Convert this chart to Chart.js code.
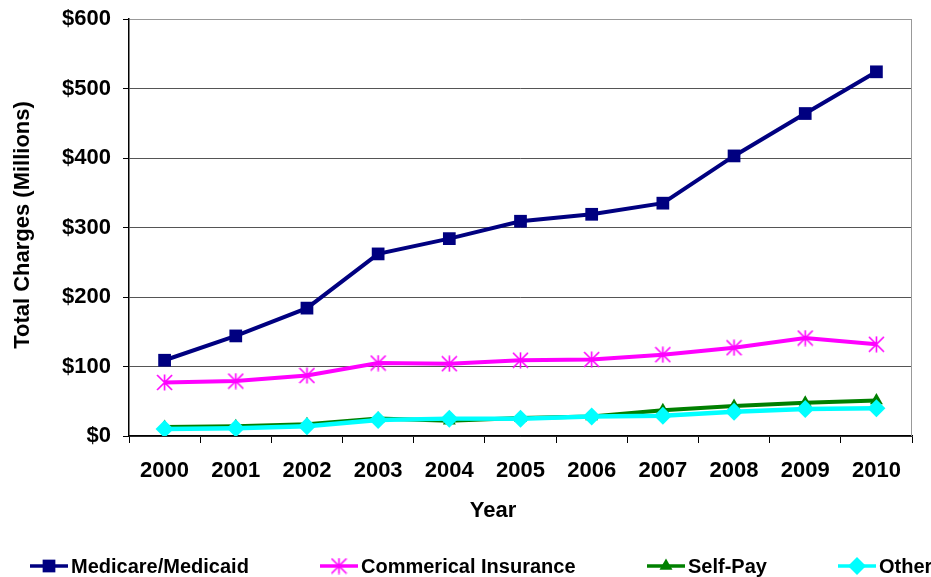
<!DOCTYPE html>
<html>
<head>
<meta charset="utf-8">
<script src="https://cdn.jsdelivr.net/npm/chart.js@4/dist/chart.umd.min.js"></script>
<style>
  html, body { margin: 0; padding: 0; background: #fff; }
  #wrap { width: 931px; height: 577px; position: relative; }
</style>
</head>
<body>
<div id="wrap"><canvas id="chargesChart" width="931" height="577"></canvas></div>
<script>
/* data */
const years = ["2000","2001","2002","2003","2004","2005","2006","2007","2008","2009","2010"];
const medicare = [109, 144, 184, 262, 284, 309, 319, 335, 403, 464, 524];
const commercial = [77, 79, 87, 105, 104, 109, 110, 117, 127, 141, 132];
const selfPay = [13, 14, 17, 25, 22, 26, 28, 37, 43, 48, 51];
const other = [10, 11, 14, 23, 25, 25, 28, 29, 35, 39, 40];
const yTicks = [0, 100, 200, 300, 400, 500, 600];

const FONT = "'Liberation Sans', Arial, sans-serif";

/* asterisk marker like the excel star */
function makeStar(size, color){
    const c = document.createElement("canvas");
    c.width = size; c.height = size;
    const g = c.getContext("2d");
    g.strokeStyle = color;
    g.lineWidth = 1.6;
    const m = size / 2, r = size / 2 - 1;
    g.beginPath();
    g.moveTo(m - r, m - r); g.lineTo(m + r, m + r);
    g.moveTo(m + r, m - r); g.lineTo(m - r, m + r);
    g.moveTo(m, 0.5); g.lineTo(m, size - 0.5);
    g.stroke();
    return c;
}
const starImg = makeStar(17, "#FF00FF");

const series = [
    { label: "Medicare/Medicaid", data: medicare, color: "#000080", style: "rect", radius: 9, order: 3 },
    { label: "Commerical Insurance", data: commercial, color: "#FF00FF", style: starImg, radius: 8, order: 2 },
    { label: "Self-Pay", data: selfPay, color: "#008000", style: "triangle", radius: 7.5, order: 1 },
    { label: "Other", data: other, color: "#00FFFF", style: "rectRot", radius: 9, order: 0 }
];

function drawMarker(g, s, x, y){
    g.save();
    g.fillStyle = s.color;
    g.beginPath();
    if(s.style === "rect"){
        const h = s.radius * Math.SQRT1_2;
        g.rect(x - h, y - h, 2 * h, 2 * h);
        g.fill();
    } else if(s.style === "triangle"){
        const r = s.radius;
        g.moveTo(x, y - r);
        g.lineTo(x + r * 0.866, y + r * 0.5);
        g.lineTo(x - r * 0.866, y + r * 0.5);
        g.closePath();
        g.fill();
    } else if(s.style === "rectRot"){
        const r = s.radius;
        g.moveTo(x, y - r); g.lineTo(x + r, y); g.lineTo(x, y + r); g.lineTo(x - r, y);
        g.closePath();
        g.fill();
    } else {
        g.drawImage(s.style, x - s.style.width / 2, y - s.style.height / 2);
    }
    g.restore();
}

/* legend, axis titles and plot border drawn by hand */
const legendSpots = [30, 320, 647, 838];

const extrasPlugin = {
    id: "extras",
    afterDraw(chart){
        const g = chart.ctx;
        const area = chart.chartArea;

        g.save();
        g.strokeStyle = "#999";
        g.lineWidth = 1;
        g.beginPath();
        g.moveTo(area.right - 0.5, area.top);
        g.lineTo(area.right - 0.5, area.bottom);
        g.stroke();

        g.fillStyle = "#000";
        g.font = "bold 22px " + FONT;
        g.textAlign = "center";
        g.textBaseline = "middle";
        g.fillText("Year", 493, 511);

        g.translate(23, 225);
        g.rotate(-Math.PI / 2);
        g.fillText("Total Charges (Millions)", 0, 0);
        g.restore();

        const ly = 566;
        series.forEach((s, i) => {
            const x = legendSpots[i];
            g.save();
            g.strokeStyle = s.color;
            g.lineWidth = 3.5;
            g.beginPath();
            g.moveTo(x, ly);
            g.lineTo(x + 38, ly);
            g.stroke();
            drawMarker(g, s, x + 19, ly);
            g.fillStyle = "#000";
            g.font = "bold 20px " + FONT;
            g.textAlign = "left";
            g.textBaseline = "middle";
            g.fillText(s.label, x + 41, ly + 1);
            g.restore();
        });
    }
};

const ctx = document.getElementById("chargesChart");

new Chart(ctx, {
    type: "line",
    data: {
        labels: years,
        datasets: series.map(s => ({
            label: s.label,
            data: s.data,
            borderColor: s.color,
            backgroundColor: s.color,
            borderWidth: s.color === "#00FFFF" ? 4.5 : 4,
            pointStyle: s.style,
            pointRadius: s.radius,
            pointBorderWidth: 0,
            pointBackgroundColor: s.color,
            pointBorderColor: s.color,
            tension: 0,
            fill: false,
            order: s.order
        }))
    },
    options: {
        responsive: false,
        animation: false,
        devicePixelRatio: 1,
        layout: { autoPadding: false, padding: { top: 19, right: 19, left: 0, bottom: 0 } },
        plugins: {
            legend: { display: false },
            tooltip: { enabled: false }
        },
        scales: {
            x: {
                offset: true,
                grid: {
                    offset: true,
                    drawOnChartArea: false,
                    drawTicks: true,
                    tickLength: 7,
                    color: "#000"
                },
                border: { color: "#000", width: 1.5 },
                ticks: {
                    color: "#000",
                    font: { family: FONT, size: 22, weight: "bold" },
                    padding: 15,
                    maxRotation: 0,
                    autoSkip: false
                },
                afterFit(scale){
                    scale.height = 577 - 436;
                    scale.paddingLeft = 0;
                    scale.paddingRight = 0;
                }
            },
            y: {
                min: 0,
                max: 600,
                afterBuildTicks(scale){ scale.ticks = yTicks.map(v => ({ value: v })); },
                grid: {
                    color: c => c.tick && c.tick.value === 600 ? "#999" : "#555",
                    lineWidth: 1,
                    drawTicks: true,
                    tickLength: 6,
                    tickColor: "#000"
                },
                border: { color: "#000", width: 1.5 },
                ticks: {
                    color: "#000",
                    font: { family: FONT, size: 22, weight: "bold" },
                    padding: 12,
                    callback: v => "$" + v
                },
                afterFit(scale){
                    scale.width = 129;
                    scale.paddingTop = 0;
                    scale.paddingBottom = 0;
                }
            }
        }
    },
    plugins: [extrasPlugin]
});
</script>
</body>
</html>
